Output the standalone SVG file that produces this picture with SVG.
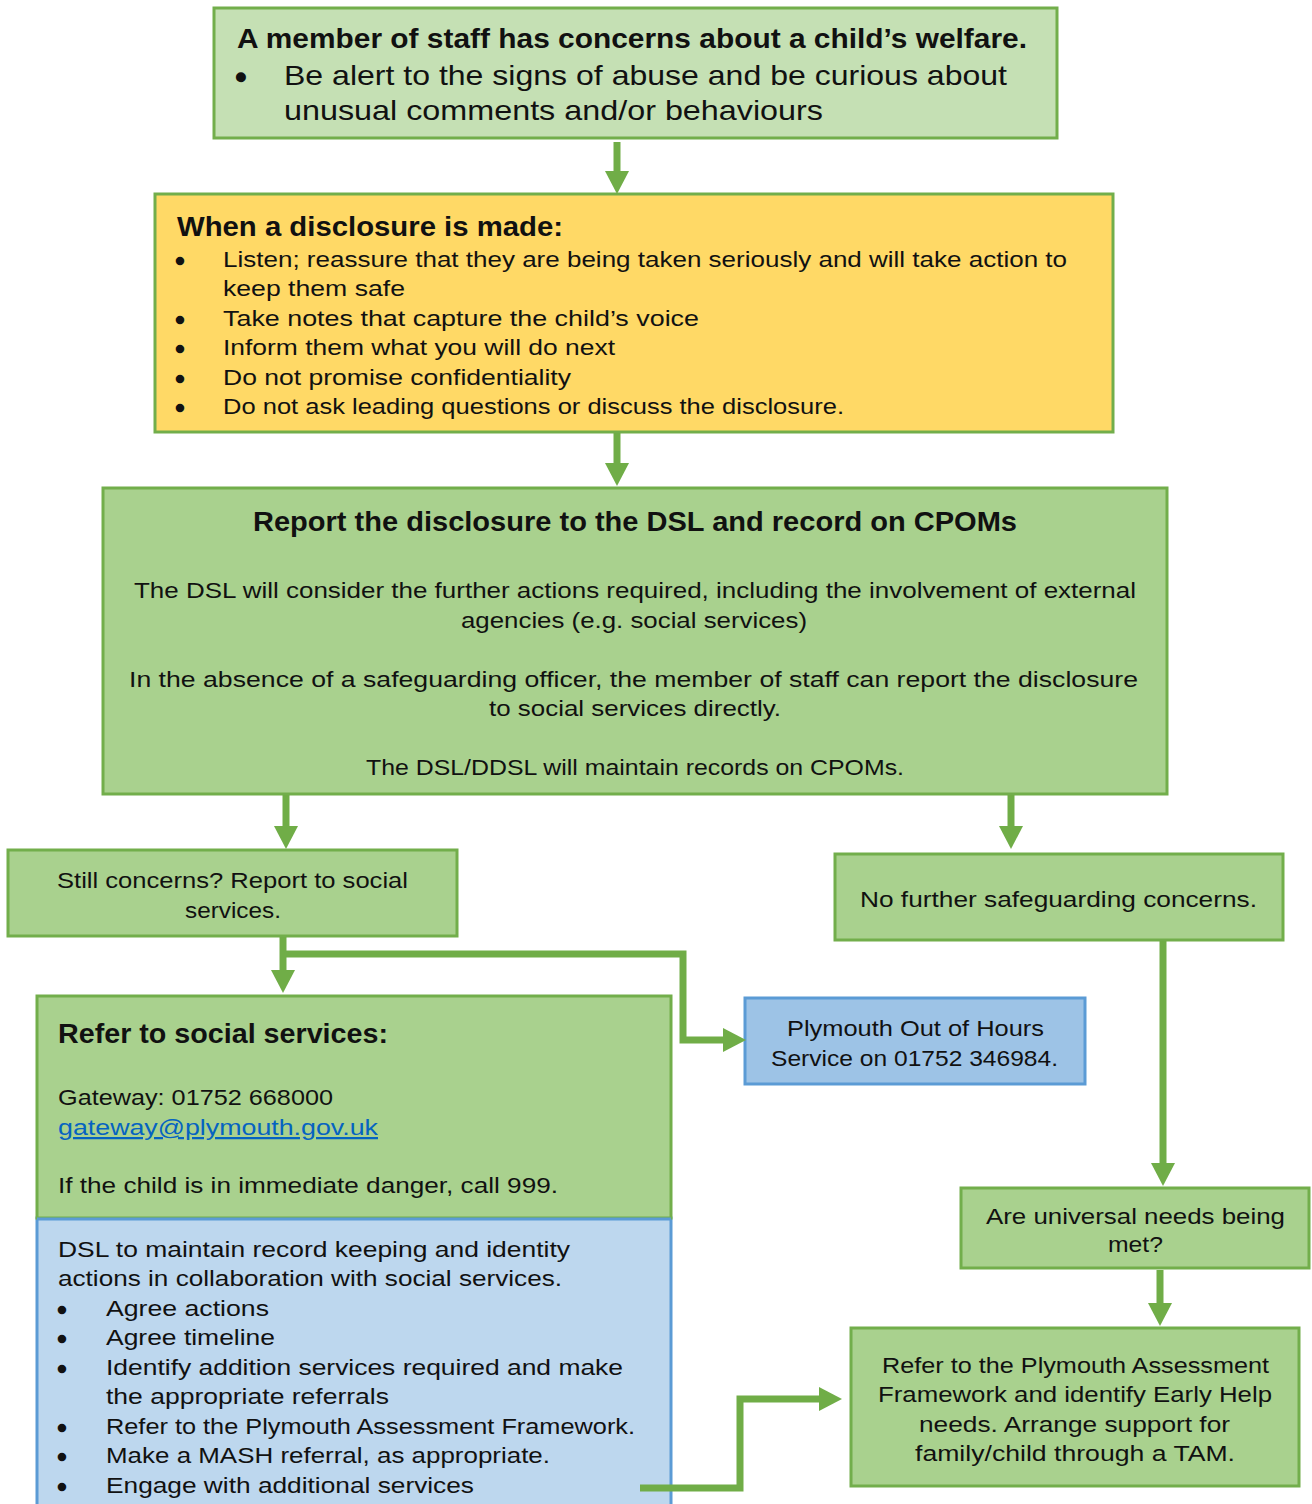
<svg xmlns="http://www.w3.org/2000/svg" width="1312" height="1504" viewBox="0 0 1312 1504">
<style>
text{font-family:"Liberation Sans",Arial,sans-serif;fill:#111;}
.t{font-size:27px;font-weight:bold;}
.b{font-size:22.5px;}
.bl{font-size:28px;}
.bu{font-size:22.5px;stroke:#111;stroke-width:2.4;}
.bu1{font-size:28px;stroke:#111;stroke-width:2.4;}
.gbox{stroke:#72ae4b;stroke-width:3;}
.bbox{stroke:#5b9bd5;stroke-width:3;}
.conn{fill:none;stroke:#70ad47;stroke-width:7;}
.link{fill:#0563c1;text-decoration:underline;}
</style>
<defs>
<marker id="ah" viewBox="0 0 23 24" refX="10" refY="12" markerWidth="23" markerHeight="24" markerUnits="userSpaceOnUse" orient="auto">
<path d="M0,0 L23,12 L0,24 Z" fill="#70ad47"/>
</marker>
</defs>
<rect width="1312" height="1504" fill="#ffffff"/>

<g id="node-concern">
<rect x="214" y="8" width="843" height="130" fill="#c5e0b4" class="gbox"/>
<text class="t" x="237" y="48" textLength="790" lengthAdjust="spacingAndGlyphs">A member of staff has concerns about a child’s welfare.</text>
<text class="bu1" x="236" y="86">•</text>
<text class="bl" x="284" y="85" textLength="723" lengthAdjust="spacingAndGlyphs">Be alert to the signs of abuse and be curious about</text>
<text class="bl" x="284" y="120" textLength="539" lengthAdjust="spacingAndGlyphs">unusual comments and/or behaviours</text>
</g>

<g id="node-disclosure">
<rect x="155" y="194" width="958" height="238" fill="#ffd966" class="gbox"/>
<text class="t" x="177" y="236" textLength="386" lengthAdjust="spacingAndGlyphs">When a disclosure is made:</text>
<text class="bu" x="176" y="268">•</text>
<text class="b" x="223" y="267" textLength="844" lengthAdjust="spacingAndGlyphs">Listen; reassure that they are being taken seriously and will take action to</text>
<text class="b" x="223" y="296" textLength="182" lengthAdjust="spacingAndGlyphs">keep them safe</text>
<text class="bu" x="176" y="327">•</text>
<text class="b" x="223" y="326" textLength="476" lengthAdjust="spacingAndGlyphs">Take notes that capture the child’s voice</text>
<text class="bu" x="176" y="356">•</text>
<text class="b" x="223" y="355" textLength="392" lengthAdjust="spacingAndGlyphs">Inform them what you will do next</text>
<text class="bu" x="176" y="386">•</text>
<text class="b" x="223" y="385" textLength="348" lengthAdjust="spacingAndGlyphs">Do not promise confidentiality</text>
<text class="bu" x="176" y="415">•</text>
<text class="b" x="223" y="414" textLength="621" lengthAdjust="spacingAndGlyphs">Do not ask leading questions or discuss the disclosure.</text>
</g>

<g id="node-report">
<rect x="103" y="488" width="1064" height="306" fill="#a9d18e" class="gbox"/>
<text class="t" x="253" y="531" textLength="764" lengthAdjust="spacingAndGlyphs">Report the disclosure to the DSL and record on CPOMs</text>
<text class="b" x="134" y="598" textLength="1002" lengthAdjust="spacingAndGlyphs">The DSL will consider the further actions required, including the involvement of external</text>
<text class="b" x="461" y="628" textLength="346" lengthAdjust="spacingAndGlyphs">agencies (e.g. social services)</text>
<text class="b" x="129" y="687" textLength="1009" lengthAdjust="spacingAndGlyphs">In the absence of a safeguarding officer, the member of staff can report the disclosure</text>
<text class="b" x="489" y="716" textLength="292" lengthAdjust="spacingAndGlyphs">to social services directly.</text>
<text class="b" x="366" y="775" textLength="538" lengthAdjust="spacingAndGlyphs">The DSL/DDSL will maintain records on CPOMs.</text>
</g>

<g id="node-still">
<rect x="8" y="850" width="449" height="86" fill="#a9d18e" class="gbox"/>
<text class="b" x="57" y="888" textLength="351" lengthAdjust="spacingAndGlyphs">Still concerns? Report to social</text>
<text class="b" x="185" y="918" textLength="96" lengthAdjust="spacingAndGlyphs">services.</text>
</g>

<g id="node-nofurther">
<rect x="835" y="854" width="448" height="86" fill="#a9d18e" class="gbox"/>
<text class="b" x="860" y="907" textLength="397" lengthAdjust="spacingAndGlyphs">No further safeguarding concerns.</text>
</g>

<g id="node-outofhours">
<rect x="745" y="998" width="340" height="86" fill="#9dc3e6" class="bbox"/>
<text class="b" x="787" y="1036" textLength="257" lengthAdjust="spacingAndGlyphs">Plymouth Out of Hours</text>
<text class="b" x="771" y="1066" textLength="287" lengthAdjust="spacingAndGlyphs">Service on 01752 346984.</text>
</g>

<g id="node-refer">
<rect x="37" y="1218" width="634" height="300" fill="#bdd7ee" class="bbox"/>
<rect x="37" y="996" width="634" height="222" fill="#a9d18e" class="gbox"/>
<line x1="37" y1="1219" x2="671" y2="1219" stroke="#5b9bd5" stroke-width="3"/>
<text class="t" x="58" y="1043" textLength="330" lengthAdjust="spacingAndGlyphs">Refer to social services:</text>
<text class="b" x="58" y="1105" textLength="275" lengthAdjust="spacingAndGlyphs">Gateway: 01752 668000</text>
<text class="b link" x="58" y="1135" textLength="320" lengthAdjust="spacingAndGlyphs">gateway@plymouth.gov.uk</text>
<text class="b" x="58" y="1193" textLength="500" lengthAdjust="spacingAndGlyphs">If the child is in immediate danger, call 999.</text>
<text class="b" x="58" y="1257" textLength="512" lengthAdjust="spacingAndGlyphs">DSL to maintain record keeping and identity</text>
<text class="b" x="58" y="1286" textLength="504" lengthAdjust="spacingAndGlyphs">actions in collaboration with social services.</text>
<text class="bu" x="58" y="1317">•</text>
<text class="b" x="106" y="1316" textLength="163" lengthAdjust="spacingAndGlyphs">Agree actions</text>
<text class="bu" x="58" y="1346">•</text>
<text class="b" x="106" y="1345" textLength="169" lengthAdjust="spacingAndGlyphs">Agree timeline</text>
<text class="bu" x="58" y="1376">•</text>
<text class="b" x="106" y="1375" textLength="517" lengthAdjust="spacingAndGlyphs">Identify addition services required and make</text>
<text class="b" x="106" y="1404" textLength="283" lengthAdjust="spacingAndGlyphs">the appropriate referrals</text>
<text class="bu" x="58" y="1435">•</text>
<text class="b" x="106" y="1434" textLength="529" lengthAdjust="spacingAndGlyphs">Refer to the Plymouth Assessment Framework.</text>
<text class="bu" x="58" y="1464">•</text>
<text class="b" x="106" y="1463" textLength="444" lengthAdjust="spacingAndGlyphs">Make a MASH referral, as appropriate.</text>
<text class="bu" x="58" y="1494">•</text>
<text class="b" x="106" y="1493" textLength="368" lengthAdjust="spacingAndGlyphs">Engage with additional services</text>
</g>

<g id="node-universal">
<rect x="961" y="1188" width="348" height="80" fill="#a9d18e" class="gbox"/>
<text class="b" x="986" y="1224" textLength="299" lengthAdjust="spacingAndGlyphs">Are universal needs being</text>
<text class="b" x="1108" y="1252" textLength="55" lengthAdjust="spacingAndGlyphs">met?</text>
</g>

<g id="node-paf">
<rect x="851" y="1328" width="448" height="158" fill="#a9d18e" class="gbox"/>
<text class="b" x="882" y="1373" textLength="387" lengthAdjust="spacingAndGlyphs">Refer to the Plymouth Assessment</text>
<text class="b" x="878" y="1402" textLength="394" lengthAdjust="spacingAndGlyphs">Framework and identify Early Help</text>
<text class="b" x="919" y="1432" textLength="311" lengthAdjust="spacingAndGlyphs">needs. Arrange support for</text>
<text class="b" x="915" y="1461" textLength="320" lengthAdjust="spacingAndGlyphs">family/child through a TAM.</text>
</g>

<g id="connectors">
<path class="conn" d="M617,142 V181" marker-end="url(#ah)"/>
<path class="conn" d="M617,433 V473" marker-end="url(#ah)"/>
<path class="conn" d="M286,795 V836" marker-end="url(#ah)"/>
<path class="conn" d="M1011,795 V836" marker-end="url(#ah)"/>
<path class="conn" d="M283,937 V980" marker-end="url(#ah)"/>
<path class="conn" d="M283,954 H683 V1040 H733" marker-end="url(#ah)"/>
<path class="conn" d="M1163,941 V1173" marker-end="url(#ah)"/>
<path class="conn" d="M1160,1270 V1313" marker-end="url(#ah)"/>
<path class="conn" d="M640,1488 H740 V1399 H829" marker-end="url(#ah)"/>
</g>
</svg>
